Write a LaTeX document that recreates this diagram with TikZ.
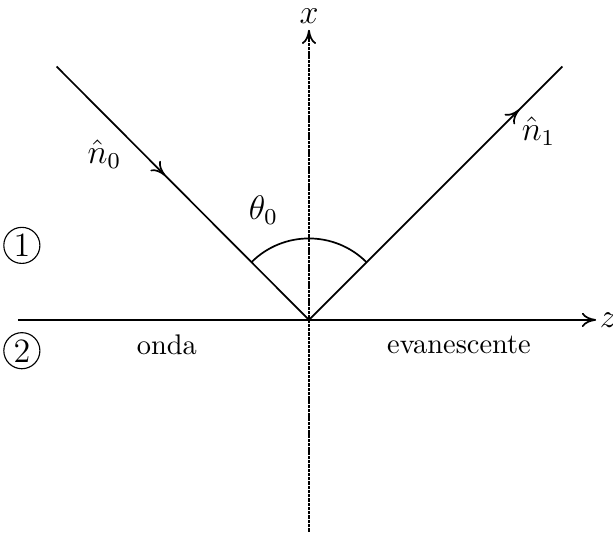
\documentclass[tikz,border=0pt]{standalone}
\usepackage{amsmath,amssymb}
\usetikzlibrary{arrows.meta,decorations.markings}

\begin{document}
\begin{tikzpicture}[
    x=0.35pt, y=0.35pt,
    axis/.style={line width=0.6pt, -{To[length=5pt,width=5pt]}},
    ray/.style={line width=0.6pt},
    midarrow/.style={postaction={decorate}, decoration={markings, mark=at position #1 with {\arrow{To[length=5pt,width=5pt]}}}},
    medium/.style={draw, circle, inner sep=1pt, minimum size=12pt, font=\large},
    lab/.style={font=\large}
]
    \useasboundingbox (-311,-214) rectangle (306,322);

    % Axes
    \coordinate (O) at (0,0);
    \coordinate (zl) at (-293,0);
    \coordinate (zr) at (289,0);
    \coordinate (xb) at (0,-213);
    \coordinate (xt) at (0,292);
    \draw[axis] (zl) -- (zr) node[right, inner sep=1pt, lab] (zlab) {$z$};
    \draw[axis, dash pattern=on 1.2pt off 0.3pt] (xb) -- (xt) node[above, inner sep=2pt, lab] (xlab) {$x$};

    % Incident and reflected rays
    \coordinate (inc) at (-254,255);
    \coordinate (refl) at (255,255);
    \draw[ray, midarrow=0.43] (inc) -- (O);
    \draw[ray, midarrow=0.83] (O) -- (refl);
    \node[lab] (n0) at (-206,167) {$\hat{n}_0$};
    \node[lab] (n1) at (231,190) {$\hat{n}_1$};

    % Angle
    \draw[ray] ([shift={(45:82)}]O) arc[start angle=45, end angle=135, radius=82];
    \node[lab] (theta) at (-46,110) {$\theta_0$};

    % Media
    \node[medium] (m1) at (-289,75) {1};
    \node[medium] (m2) at (-289,-31) {2};
    \node (onda) at (-143,-25) {onda};
    \node (evan) at (151,-25) {evanescente};
\end{tikzpicture}
\end{document}
